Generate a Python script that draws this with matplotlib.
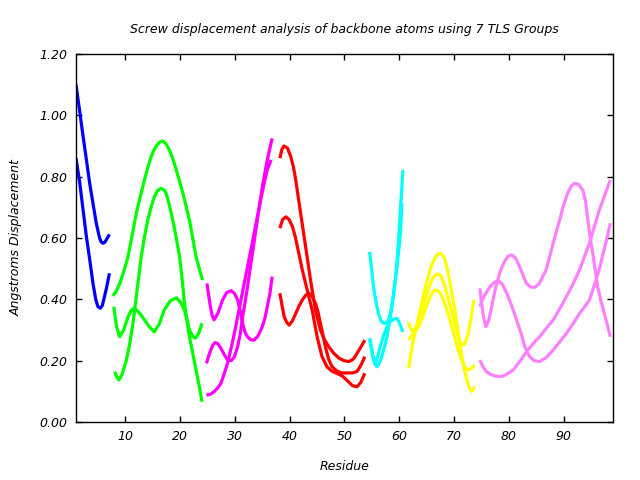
import matplotlib
matplotlib.use("Agg")
import matplotlib.pyplot as plt

# ---------------- data ----------------
title = "Screw displacement analysis of backbone atoms using 7 TLS Groups"
xlabel = "Residue"
ylabel = "Angstroms Displacement"
x_ticks = [10, 20, 30, 40, 50, 60, 70, 80, 90]
y_ticks = [0.0, 0.2, 0.4, 0.6, 0.8, 1.0, 1.2]

# group 1 (blue)
b1_x = [1.0, 1.7, 2.3, 2.9, 3.5, 4.1, 4.7, 5.3, 5.6, 5.9, 6.2, 6.5, 7.1]
b1_y = [1.10, 1.01, 0.93, 0.855, 0.778, 0.713, 0.648, 0.600, 0.587, 0.583, 0.585, 0.593, 0.612]
b2_x = [1.0, 1.7, 2.3, 2.9, 3.5, 4.1, 4.6, 5.0, 5.45, 5.8, 6.2, 6.6, 7.1]
b2_y = [0.86, 0.778, 0.69, 0.604, 0.53, 0.452, 0.40, 0.376, 0.371, 0.38, 0.409, 0.44, 0.485]

# group 2 (green)
g1_x = [7.7, 8.3, 9.0, 9.7, 10.5, 11.2, 12.0, 12.8, 13.5, 14.1, 14.7, 15.3, 15.9, 16.4,
        16.8, 17.4, 18.05, 18.7, 19.3, 19.9, 20.5, 21.1, 21.7, 22.3, 22.9, 23.5, 24.1]
g1_y = [0.411, 0.425, 0.452, 0.49, 0.539, 0.605, 0.680, 0.74, 0.789, 0.83, 0.865, 0.89, 0.906, 0.914,
        0.916, 0.908, 0.887, 0.857, 0.822, 0.785, 0.746, 0.703, 0.659, 0.60, 0.539, 0.50, 0.463]
g2_x = [8.05, 8.5, 8.85, 9.4, 10.2, 10.8, 11.4, 12.0, 12.9, 13.5, 14.1, 14.7, 15.3, 15.9, 16.5,
        17.0, 17.45, 18.0, 18.65, 19.3, 19.9, 20.4, 20.8, 21.3, 21.7, 22.3, 22.9, 23.5, 24.0]
g2_y = [0.164, 0.145, 0.137, 0.155, 0.202, 0.255, 0.322, 0.409, 0.539, 0.605, 0.659, 0.70, 0.735, 0.755, 0.762,
        0.758, 0.746, 0.71, 0.659, 0.60, 0.539, 0.46, 0.387, 0.325, 0.278, 0.225, 0.170, 0.115, 0.066]
g3_x = [7.9, 8.4, 8.96, 9.7, 10.5, 11.1, 11.7, 12.6, 13.5, 14.4, 15.3, 16.2, 17.1, 18.2, 19.3,
        20.1, 20.8, 21.3, 21.7, 22.3, 22.8, 23.4, 24.0]
g3_y = [0.376, 0.31, 0.278, 0.30, 0.343, 0.365, 0.371, 0.355, 0.333, 0.31, 0.294, 0.32, 0.365, 0.395, 0.405,
        0.39, 0.365, 0.33, 0.30, 0.28, 0.273, 0.29, 0.322]

# group 3 (magenta)
m1_x = [24.8, 25.5, 26.2, 26.8, 27.45, 28.0, 28.65, 29.3, 29.9, 30.5, 31.1, 31.7, 32.3, 32.9,
        33.5, 34.1, 34.7, 35.3, 35.9, 36.3, 36.6]
m1_y = [0.088, 0.09, 0.099, 0.11, 0.126, 0.155, 0.191, 0.24, 0.289, 0.343, 0.398, 0.452, 0.506, 0.56,
        0.615, 0.67, 0.724, 0.775, 0.822, 0.84, 0.855]
m2_x = [24.9, 25.4, 25.8, 26.2, 26.9, 27.75, 28.5, 29.3, 29.9, 30.5, 31.0, 31.4, 31.9, 32.3, 32.9,
        33.5, 34.2, 35.0, 35.5, 35.9, 36.4, 36.8]
m2_y = [0.452, 0.39, 0.35, 0.333, 0.355, 0.398, 0.422, 0.428, 0.42, 0.398, 0.36, 0.322, 0.29, 0.278, 0.268,
        0.267, 0.28, 0.311, 0.34, 0.376, 0.42, 0.474]
m3_x = [24.8, 25.2, 25.6, 26.0, 26.4, 26.9, 27.45, 28.05, 28.65, 29.3, 29.9, 30.5, 31.0, 31.4,
        31.85, 32.3, 33.2, 34.1, 35.0, 35.9, 36.8]
m3_y = [0.191, 0.215, 0.235, 0.252, 0.259, 0.255, 0.240, 0.22, 0.202, 0.20, 0.212, 0.246, 0.29, 0.343,
        0.39, 0.441, 0.550, 0.659, 0.767, 0.854, 0.925]

# group 4 (red)
r1_x = [38.2, 38.6, 38.96, 39.6, 40.2, 40.7, 41.1, 42.0, 42.9, 43.8, 44.7, 45.6, 46.3, 47.1, 48.0,
        49.0, 49.9, 50.8, 51.6, 52.3, 53.0, 53.7]
r1_y = [0.86, 0.89, 0.90, 0.893, 0.865, 0.83, 0.789, 0.680, 0.572, 0.463, 0.365, 0.30, 0.27, 0.246, 0.225,
        0.208, 0.20, 0.197, 0.205, 0.224, 0.245, 0.267]
r2_x = [38.2, 38.7, 39.3, 39.9, 40.5, 41.0, 41.4, 42.3, 43.2, 44.1, 45.0, 45.9, 46.8, 47.75, 48.7,
        49.6, 50.5, 51.5, 52.3, 53.0, 53.7]
r2_y = [0.632, 0.66, 0.669, 0.66, 0.637, 0.605, 0.572, 0.496, 0.430, 0.365, 0.278, 0.213, 0.18, 0.165, 0.158,
        0.15, 0.135, 0.118, 0.115, 0.13, 0.159]
r3_x = [38.2, 38.6, 39.0, 39.45, 39.9, 40.5, 41.1, 41.7, 42.3, 42.9, 43.5, 44.1, 44.7, 45.15, 45.6,
        46.05, 46.5, 47.1, 47.75, 48.7, 49.6, 50.5, 51.5, 52.3, 53.0, 53.7]
r3_y = [0.42, 0.38, 0.343, 0.325, 0.316, 0.33, 0.354, 0.378, 0.398, 0.413, 0.42, 0.41, 0.387, 0.36, 0.322,
        0.285, 0.246, 0.205, 0.18, 0.165, 0.16, 0.16, 0.16, 0.165, 0.185, 0.213]

# group 5 (cyan)
c1_x = [54.6, 55.0, 55.3, 55.75, 56.2, 56.65, 57.1, 57.6, 58.05, 58.5, 59.0, 59.3, 59.6, 59.9, 60.2, 60.45, 60.65]
c1_y = [0.555, 0.49, 0.441, 0.39, 0.354, 0.33, 0.322, 0.322, 0.333, 0.365, 0.42, 0.47, 0.528, 0.60, 0.691, 0.76, 0.822]
c2_x = [54.6, 55.0, 55.3, 55.6, 55.9, 56.3, 56.8, 57.3, 57.75, 58.2, 58.65, 59.1, 59.6, 59.9, 60.2, 60.5]
c2_y = [0.273, 0.235, 0.202, 0.188, 0.180, 0.19, 0.213, 0.245, 0.278, 0.325, 0.376, 0.44, 0.506, 0.56, 0.615, 0.713]
c3_x = [54.6, 55.1, 55.6, 56.0, 56.5, 57.1, 57.75, 58.4, 59.0, 59.6, 60.1, 60.65]
c3_y = [0.27, 0.22, 0.191, 0.21, 0.246, 0.28, 0.311, 0.328, 0.335, 0.338, 0.32, 0.294]

# group 6 (yellow)
y1_x = [61.7, 62.1, 62.5, 63.0, 63.5, 64.0, 64.5, 65.0, 65.5, 66.0, 66.5, 67.0, 67.4, 67.85, 68.3,
        68.75, 69.2, 69.65, 70.1, 70.55, 71.0, 71.45, 71.9, 72.35, 72.8, 73.2, 73.8]
y1_y = [0.175, 0.22, 0.26, 0.30, 0.34, 0.38, 0.42, 0.455, 0.49, 0.515, 0.535, 0.547, 0.55, 0.545, 0.53,
        0.50, 0.46, 0.415, 0.37, 0.315, 0.26, 0.21, 0.17, 0.135, 0.11, 0.10, 0.115]
y2_x = [61.7, 62.2, 62.7, 63.3, 64.0, 64.7, 65.4, 66.0, 66.6, 67.1, 67.6, 68.2, 68.8, 69.4, 70.0,
        70.5, 70.9, 71.3, 71.7, 72.1, 72.6, 73.1, 73.6]
y2_y = [0.267, 0.28, 0.295, 0.32, 0.36, 0.40, 0.44, 0.465, 0.48, 0.483, 0.475, 0.45, 0.41, 0.37, 0.33,
        0.295, 0.27, 0.255, 0.251, 0.26, 0.29, 0.34, 0.398]
y3_x = [61.7, 62.2, 62.8, 63.5, 64.2, 65.0, 65.8, 66.3, 66.8, 67.3, 67.9, 68.5, 69.2, 69.9, 70.6,
        71.3, 72.0, 72.6, 73.2, 73.7]
y3_y = [0.324, 0.30, 0.295, 0.31, 0.34, 0.38, 0.415, 0.428, 0.43, 0.425, 0.405, 0.375, 0.335, 0.29, 0.245,
        0.205, 0.178, 0.17, 0.175, 0.186]

# group 7 (violet)
v1_x = [74.7, 75.0, 75.4, 75.8, 76.3, 76.9, 77.6, 78.4, 79.1, 79.8, 80.5, 81.2, 82.0, 82.6, 83.2, 84.0,
        84.7, 85.5, 86.2, 86.8, 87.6, 88.4, 89.2, 89.9, 90.7, 91.4, 92.0, 92.7, 93.5, 94.0, 94.4, 94.85,
        95.3, 95.75, 96.2, 96.8, 97.4, 98.0, 98.5]
v1_y = [0.436, 0.39, 0.34, 0.311, 0.33, 0.38, 0.44, 0.49, 0.52, 0.54, 0.545, 0.535, 0.505, 0.478, 0.452, 0.44,
        0.439, 0.45, 0.475, 0.496, 0.55, 0.604, 0.655, 0.702, 0.745, 0.77, 0.778, 0.775, 0.756, 0.72, 0.659, 0.60,
        0.550, 0.495, 0.441, 0.395, 0.354, 0.315, 0.278]
v2_x = [74.7, 75.2, 75.8, 76.5, 77.3, 78.05, 78.8, 79.6, 80.5, 81.4, 82.2, 82.9, 83.7, 84.6, 85.6, 86.8,
        88.1, 89.3, 90.5, 91.7, 92.9, 93.8, 94.7, 95.3, 95.9, 96.6, 97.2, 97.9, 98.5]
v2_y = [0.376, 0.40, 0.42, 0.44, 0.455, 0.461, 0.45, 0.42, 0.38, 0.333, 0.29, 0.246, 0.215, 0.20, 0.197, 0.21,
        0.235, 0.262, 0.289, 0.32, 0.354, 0.375, 0.398, 0.43, 0.463, 0.505, 0.55, 0.60, 0.648]
v3_x = [74.7, 75.3, 75.9, 76.7, 77.5, 78.4, 79.2, 80.0, 80.8, 82.0, 83.2, 84.4, 85.6, 86.8, 88.1, 89.3,
        90.5, 91.7, 92.9, 93.8, 94.7, 95.6, 96.5, 97.5, 98.5]
v3_y = [0.202, 0.18, 0.164, 0.155, 0.15, 0.148, 0.152, 0.16, 0.170, 0.198, 0.229, 0.255, 0.278, 0.305, 0.333, 0.37,
        0.409, 0.45, 0.496, 0.54, 0.583, 0.637, 0.691, 0.74, 0.789]

group_colors = ["#0000ff", "#00ff00", "#ff00ff", "#ff0000", "#00ffff", "#ffff00", "#ff80ff"]
groups = [
    [(b1_x, b1_y), (b2_x, b2_y)],
    [(g1_x, g1_y), (g2_x, g2_y), (g3_x, g3_y)],
    [(m1_x, m1_y), (m2_x, m2_y), (m3_x, m3_y)],
    [(r1_x, r1_y), (r2_x, r2_y), (r3_x, r3_y)],
    [(c1_x, c1_y), (c2_x, c2_y), (c3_x, c3_y)],
    [(y1_x, y1_y), (y2_x, y2_y), (y3_x, y3_y)],
    [(v1_x, v1_y), (v2_x, v2_y), (v3_x, v3_y)],
]

# ---------------- plotting ----------------
plt.rcParams['font.family'] = ['DejaVu Sans']
fig = plt.figure(figsize=(6.4, 4.8), dpi=100)
ax = fig.add_axes([76 / 640, 1 - 422 / 480, (613 - 76) / 640, (422 - 54) / 480])

for color, curves in zip(group_colors, groups):
    for xs, ys in curves:
        ax.plot(xs, ys, color=color, lw=2.3, solid_capstyle='butt', solid_joinstyle='round')

ax.set_xlim(1, 99)
ax.set_ylim(0, 1.2)
ax.set_xticks(x_ticks)
ax.set_xticklabels([str(t) for t in x_ticks], fontstyle='italic', fontsize=9)
ax.set_yticks(y_ticks)
ax.set_yticklabels(["%.2f" % t for t in y_ticks], fontstyle='italic', fontsize=9)
ax.tick_params(direction='in', length=4, width=1, top=True, right=True, pad=6)
for s in ax.spines.values():
    s.set_linewidth(1.0)

ax.set_title(title, fontstyle='italic', fontsize=9, pad=15)
ax.set_xlabel(xlabel, fontstyle='italic', fontsize=9, labelpad=12)
ax.set_ylabel(ylabel, fontstyle='italic', fontsize=9, labelpad=12)

fig.savefig("out.png", dpi=100)
